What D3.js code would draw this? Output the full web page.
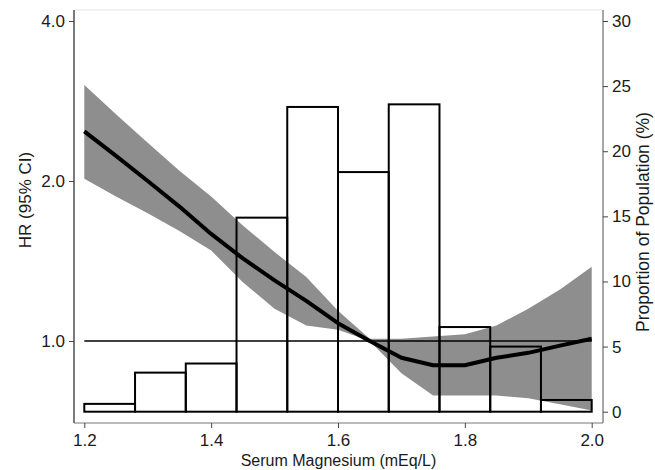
<!DOCTYPE html>
<html>
<head>
<meta charset="utf-8">
<script src="https://cdn.jsdelivr.net/npm/d3@7"></script>
<style>
  body { margin: 0; background: #fff; }
  text { font-family: "Liberation Sans", Arial, sans-serif; }
</style>
</head>
<body>
<script>
const svgWidth = 655
const svgHeight = 470

// plot frame
const frame = { left: 74, right: 603, top: 10, bottom: 423 }

// histogram: bins of serum magnesium, % of population
const binStarts = [1.20, 1.28, 1.36, 1.44, 1.52, 1.60, 1.68, 1.76, 1.84, 1.92]
const binWidth = 0.08
const binPct = [0.6, 3.0, 3.7, 14.9, 23.4, 18.4, 23.6, 6.5, 5.0, 0.9]

// spline hazard ratio with 95% CI
const magX  = [1.20, 1.25, 1.30, 1.35, 1.40, 1.45, 1.50, 1.55, 1.60, 1.65, 1.70, 1.75, 1.80, 1.85, 1.90, 1.95, 2.00]
const hr    = [2.48, 2.23, 2.00, 1.79, 1.59, 1.43, 1.30, 1.19, 1.08, 1.00, 0.93, 0.90, 0.90, 0.93, 0.95, 0.98, 1.01]
const hrLow = [2.02, 1.87, 1.74, 1.61, 1.48, 1.29, 1.15, 1.07, 1.05, 1.00, 0.87, 0.79, 0.79, 0.79, 0.78, 0.76, 0.74]
const hrHigh= [3.03, 2.67, 2.36, 2.09, 1.87, 1.65, 1.47, 1.32, 1.14, 1.01, 1.01, 1.02, 1.03, 1.07, 1.15, 1.25, 1.38]

const xTicks = [1.2, 1.4, 1.6, 1.8, 2.0]
const hrTicks = [1, 2, 4]
const pctTicks = [0, 5, 10, 15, 20, 25, 30]

const svg = d3.select("body").append("svg")
  .attr("width", svgWidth)
  .attr("height", svgHeight)

const x = d3.scaleLinear().domain([1.2, 2.0]).range([84.3, 591.7])
const yHR = d3.scaleLog().domain([1, 4]).range([341, 21])
const yPct = d3.scaleLinear().domain([0, 30]).range([411.7, 21])

const curve = magX.map((m, i) => ({ m, hr: hr[i], lo: hrLow[i], hi: hrHigh[i] }))

// CI band
svg.append("path")
  .datum(curve)
  .attr("fill", "#8e8e8e")
  .attr("d", d3.area()
    .x(d => x(d.m))
    .y0(d => yHR(d.lo))
    .y1(d => yHR(d.hi)))

// histogram outlines
svg.append("g")
  .selectAll("rect")
  .data(binStarts)
  .enter()
  .append("rect")
  .attr("x", (d) => x(d))
  .attr("width", (d) => x(d + binWidth) - x(d))
  .attr("y", (d, i) => yPct(binPct[i]))
  .attr("height", (d, i) => yPct(0) - yPct(binPct[i]))
  .attr("fill", "none")
  .attr("stroke", "#000")
  .attr("stroke-width", 2)

// reference line HR = 1
svg.append("line")
  .attr("x1", x(1.2)).attr("x2", x(2.0))
  .attr("y1", yHR(1)).attr("y2", yHR(1))
  .attr("stroke", "#000")
  .attr("stroke-width", 1.5)

// HR curve
svg.append("path")
  .datum(curve)
  .attr("fill", "none")
  .attr("stroke", "#000")
  .attr("stroke-width", 4)
  .attr("stroke-linejoin", "round")
  .attr("d", d3.line().x(d => x(d.m)).y(d => yHR(d.hr)))

// frame lines
svg.append("line")
  .attr("x1", frame.left).attr("x2", frame.right)
  .attr("y1", frame.top).attr("y2", frame.top)
  .attr("stroke", "#e2e2e2")
svg.append("line")
  .attr("x1", frame.left).attr("x2", frame.left)
  .attr("y1", frame.top).attr("y2", frame.bottom)
  .attr("stroke", "#222").attr("stroke-width", 1.2)
svg.append("line")
  .attr("x1", frame.right).attr("x2", frame.right)
  .attr("y1", frame.top).attr("y2", frame.bottom)
  .attr("stroke", "#888").attr("stroke-width", 1.5)
svg.append("line")
  .attr("x1", frame.left).attr("x2", frame.right)
  .attr("y1", frame.bottom).attr("y2", frame.bottom)
  .attr("stroke", "#777").attr("stroke-width", 1.2)

// axes
const styleAxis = (g) => {
  g.select(".domain").remove()
  g.selectAll(".tick line").attr("stroke", "#444")
  g.selectAll(".tick text")
    .attr("fill", "#1a1a1a")
    .style("font-size", "17px")
    .style("font-family", "'Liberation Sans', Arial, sans-serif")
}

svg.append("g")
  .attr("transform", `translate(${frame.left}, 0)`)
  .call(d3.axisLeft(yHR).tickValues(hrTicks).tickFormat(d3.format(".1f")).tickSize(5).tickPadding(4))
  .call(styleAxis)

svg.append("g")
  .attr("transform", `translate(${frame.right}, 0)`)
  .call(d3.axisRight(yPct).tickValues(pctTicks).tickSize(5).tickPadding(4))
  .call(styleAxis)

svg.append("g")
  .attr("transform", `translate(0, ${frame.bottom})`)
  .call(d3.axisBottom(x).tickValues(xTicks).tickFormat(d3.format(".1f")).tickSize(5).tickPadding(6))
  .call(styleAxis)

// titles
svg.append("text")
  .attr("x", (frame.left + frame.right) / 2)
  .attr("y", 466)
  .attr("text-anchor", "middle")
  .attr("font-size", "16px")
  .attr("fill", "#1a1a1a")
  .text("Serum Magnesium (mEq/L)")

svg.append("text")
  .attr("transform", "translate(31, 200) rotate(-90)")
  .attr("text-anchor", "middle")
  .attr("font-size", "17px")
  .attr("fill", "#1a1a1a")
  .text("HR (95% CI)")

svg.append("text")
  .attr("transform", "translate(649, 222) rotate(-90)")
  .attr("text-anchor", "middle")
  .attr("font-size", "17.5px")
  .attr("fill", "#1a1a1a")
  .text("Proportion of Population (%)")
</script>
</body>
</html>
